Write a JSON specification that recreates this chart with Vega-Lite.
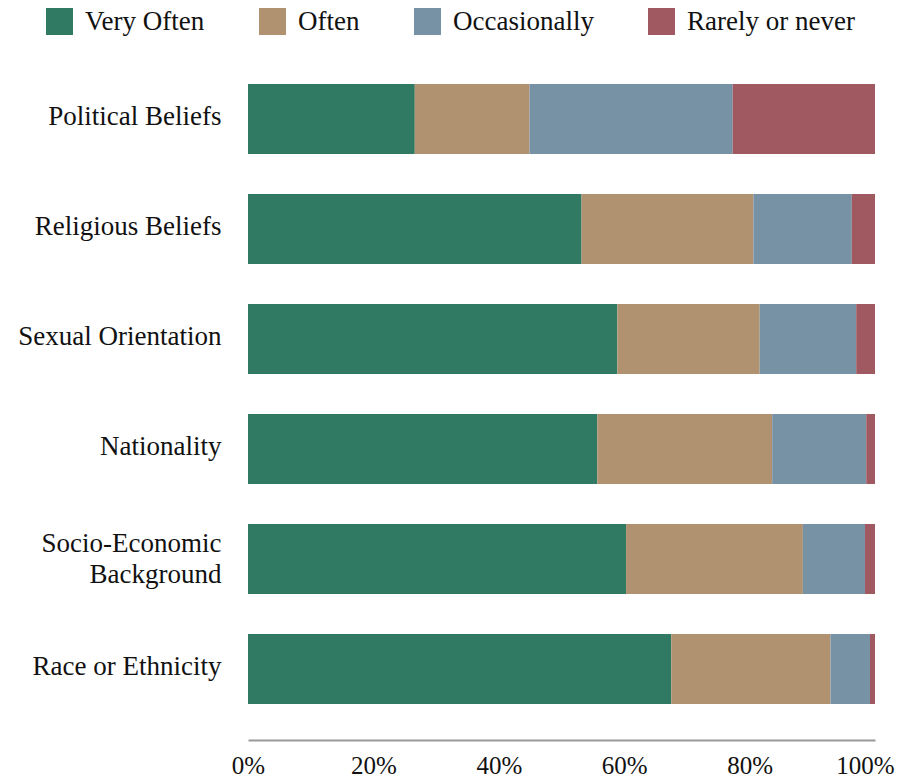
{
  "$schema": "https://vega.github.io/schema/vega-lite/v6.json",
  "width": 627,
  "height": 692,
  "autosize": "none",
  "padding": {"left": 248, "top": 48, "right": 30, "bottom": 39},
  "background": "white",
  "data": {
    "values": [
      {"category": "Political Beliefs", "response": "Very Often", "rank": 1, "value": 26.6},
      {"category": "Political Beliefs", "response": "Often", "rank": 2, "value": 18.3},
      {"category": "Political Beliefs", "response": "Occasionally", "rank": 3, "value": 32.4},
      {"category": "Political Beliefs", "response": "Rarely or never", "rank": 4, "value": 22.7},
      {"category": "Religious Beliefs", "response": "Very Often", "rank": 1, "value": 53.2},
      {"category": "Religious Beliefs", "response": "Often", "rank": 2, "value": 27.4},
      {"category": "Religious Beliefs", "response": "Occasionally", "rank": 3, "value": 15.7},
      {"category": "Religious Beliefs", "response": "Rarely or never", "rank": 4, "value": 3.7},
      {"category": "Sexual Orientation", "response": "Very Often", "rank": 1, "value": 58.9},
      {"category": "Sexual Orientation", "response": "Often", "rank": 2, "value": 22.7},
      {"category": "Sexual Orientation", "response": "Occasionally", "rank": 3, "value": 15.4},
      {"category": "Sexual Orientation", "response": "Rarely or never", "rank": 4, "value": 3.0},
      {"category": "Nationality", "response": "Very Often", "rank": 1, "value": 55.7},
      {"category": "Nationality", "response": "Often", "rank": 2, "value": 27.9},
      {"category": "Nationality", "response": "Occasionally", "rank": 3, "value": 15.0},
      {"category": "Nationality", "response": "Rarely or never", "rank": 4, "value": 1.4},
      {"category": "Socio-Economic Background", "response": "Very Often", "rank": 1, "value": 60.3},
      {"category": "Socio-Economic Background", "response": "Often", "rank": 2, "value": 28.2},
      {"category": "Socio-Economic Background", "response": "Occasionally", "rank": 3, "value": 9.9},
      {"category": "Socio-Economic Background", "response": "Rarely or never", "rank": 4, "value": 1.6},
      {"category": "Race or Ethnicity", "response": "Very Often", "rank": 1, "value": 67.5},
      {"category": "Race or Ethnicity", "response": "Often", "rank": 2, "value": 25.4},
      {"category": "Race or Ethnicity", "response": "Occasionally", "rank": 3, "value": 6.3},
      {"category": "Race or Ethnicity", "response": "Rarely or never", "rank": 4, "value": 0.8}
    ]
  },
  "mark": {"type": "bar"},
  "encoding": {
    "y": {
      "field": "category",
      "type": "nominal",
      "sort": null,
      "scale": {"paddingInner": 0.3636, "paddingOuter": 0.327},
      "axis": {
        "title": null,
        "domain": false,
        "ticks": false,
        "labelPadding": 27,
        "labelFontSize": 27,
        "labelLineHeight": 31,
        "labelFont": "Liberation Serif",
        "labelColor": "#111111",
        "labelLimit": 300,
        "labelOffset": {"condition": {"test": "datum.value == 'Socio-Economic Background'", "value": -15}, "value": -2},
        "labelExpr": "datum.label == 'Socio-Economic Background' ? ['Socio-Economic', 'Background'] : datum.label"
      }
    },
    "x": {
      "field": "value",
      "type": "quantitative",
      "stack": "zero",
      "scale": {"domain": [0, 100], "nice": false},
      "axis": {
        "title": null,
        "grid": false,
        "ticks": false,
        "values": [0, 20, 40, 60, 80, 100],
        "labelExpr": "datum.value + '%'",
        "labelFont": "Liberation Serif",
        "labelFontSize": 25,
        "labelColor": "#111111",
        "labelPadding": 13,
        "labelFlush": false,
        "labelOffset": {"condition": {"test": "datum.value == 100", "value": -10}, "value": 0},
        "domainColor": "#999999",
        "domainWidth": 2
      }
    },
    "color": {
      "field": "response",
      "type": "nominal",
      "scale": {
        "domain": ["Very Often", "Often", "Occasionally", "Rarely or never"],
        "range": ["#307A63", "#B09270", "#7892A5", "#A05960"]
      },
      "legend": {
        "title": null,
        "orient": "none",
        "direction": "horizontal",
        "legendX": -202,
        "legendY": -40,
        "symbolType": "square",
        "symbolSize": 729,
        "symbolStrokeWidth": 0,
        "symbolOpacity": 1,
        "labelFont": "Liberation Serif",
        "labelFontSize": 27,
        "labelColor": "#111111",
        "labelOffset": 12,
        "columnPadding": 54,
        "labelLimit": 300
      }
    },
    "order": {"field": "rank", "type": "quantitative"}
  },
  "config": {"view": {"stroke": null}}
}
